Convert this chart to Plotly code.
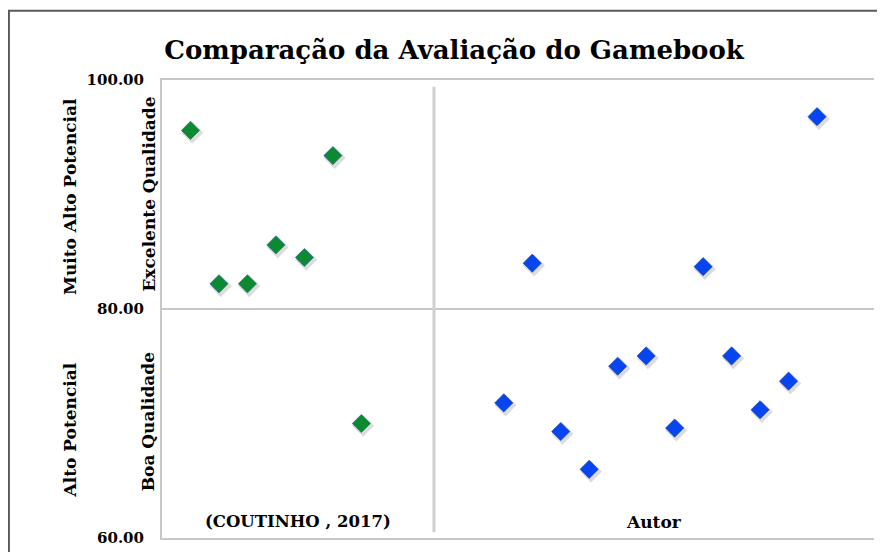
import plotly.graph_objects as go

# scores (x = position of each evaluation)
coutinho_x = [1, 2, 3, 4, 5, 6, 7]
coutinho_y = [95.6, 82.2, 82.2, 85.6, 84.5, 93.4, 70.0]

autor_x = [12, 13, 14, 15, 16, 17, 18, 19, 20, 21, 22, 23]
autor_y = [71.8, 84.0, 69.3, 66.0, 75.0, 75.9, 69.6, 83.7, 75.9, 71.2, 73.7, 96.8]

y_ticks = [60, 80, 100]
title = "Comparação da Avaliação do Gamebook"

serif = "DejaVu Serif"

fig = go.Figure()

# soft drop shadow under the diamonds
for xs, ys in [(coutinho_x, coutinho_y), (autor_x, autor_y)]:
    fig.add_trace(go.Scatter(
        x=[v + 0.06 for v in xs], y=[v - 0.2 for v in ys], mode="markers",
        marker=dict(symbol="diamond", size=17, color="rgba(60,60,80,0.18)",
                    line=dict(width=0)),
        hoverinfo="skip", showlegend=False))

fig.add_trace(go.Scatter(
    x=coutinho_x, y=coutinho_y, mode="markers", name="(COUTINHO , 2017)",
    marker=dict(symbol="diamond", size=14, color="#0b8a32",
                line=dict(width=0.6, color="#2a5fa0")),
    showlegend=False))

fig.add_trace(go.Scatter(
    x=autor_x, y=autor_y, mode="markers", name="Autor",
    marker=dict(symbol="diamond", size=14, color="#0645f0",
                line=dict(width=0.6, color="#1a3aa0")),
    showlegend=False))

# vertical divider between the two groups
fig.add_shape(type="line", x0=9.55, x1=9.55, y0=60.5, y1=99.4,
              line=dict(color="#d0d0d0", width=3))

# outer frame (right and bottom edges fall outside the picture)
fig.add_shape(type="rect", xref="paper", yref="paper",
              x0=-0.215, x1=1.3, y0=-0.3, y1=1.151,
              line=dict(color="#5a5a5a", width=2), layer="below")

lab_font = dict(family=serif, size=17, color="black", weight="bold")

annots = [
    ("Muito Alto Potencial", -0.129, 89.8),
    ("Excelente Qualidade", -0.0195, 90),
    ("Alto Potencial", -0.129, 69.4),
    ("Boa Qualidade", -0.0195, 70.2),
]
for txt, ax, ay in annots:
    fig.add_annotation(text=txt, x=ax, y=ay, xref="paper", yref="y",
                       textangle=-90, showarrow=False, xanchor="center",
                       yanchor="middle", font=lab_font)

fig.add_annotation(text="(COUTINHO , 2017)", x=4.78, y=61.4, showarrow=False,
                   font=dict(lab_font, size=16.5))
fig.add_annotation(text="Autor", x=17.27, y=61.4, showarrow=False,
                   font=lab_font)

# page body adds an 8px offset, so margins are trimmed by that amount
fig.update_layout(
    width=885, height=552,
    margin=dict(l=154, r=19, t=72, b=22),
    paper_bgcolor="white", plot_bgcolor="white",
    title=dict(text=title, x=0.504, xanchor="center", y=0.924,
               yanchor="middle",
               font=dict(family=serif, size=26, color="black", weight="bold")),
)

fig.update_xaxes(range=[0, 25], showticklabels=False, showgrid=False,
                 zeroline=False, showline=True, linecolor="#c8c8c8",
                 linewidth=2, mirror=True, ticks="")
fig.update_yaxes(range=[60, 100], tickvals=y_ticks, tickformat=".2f",
                 showgrid=True, gridcolor="#c8c8c8", gridwidth=2,
                 zeroline=False, showline=True, linecolor="#c8c8c8",
                 linewidth=2, ticks="", ticklabelstandoff=13,
                 tickfont=dict(family=serif, size=15, color="black",
                               weight="bold"))

fig.write_html("out.html")
